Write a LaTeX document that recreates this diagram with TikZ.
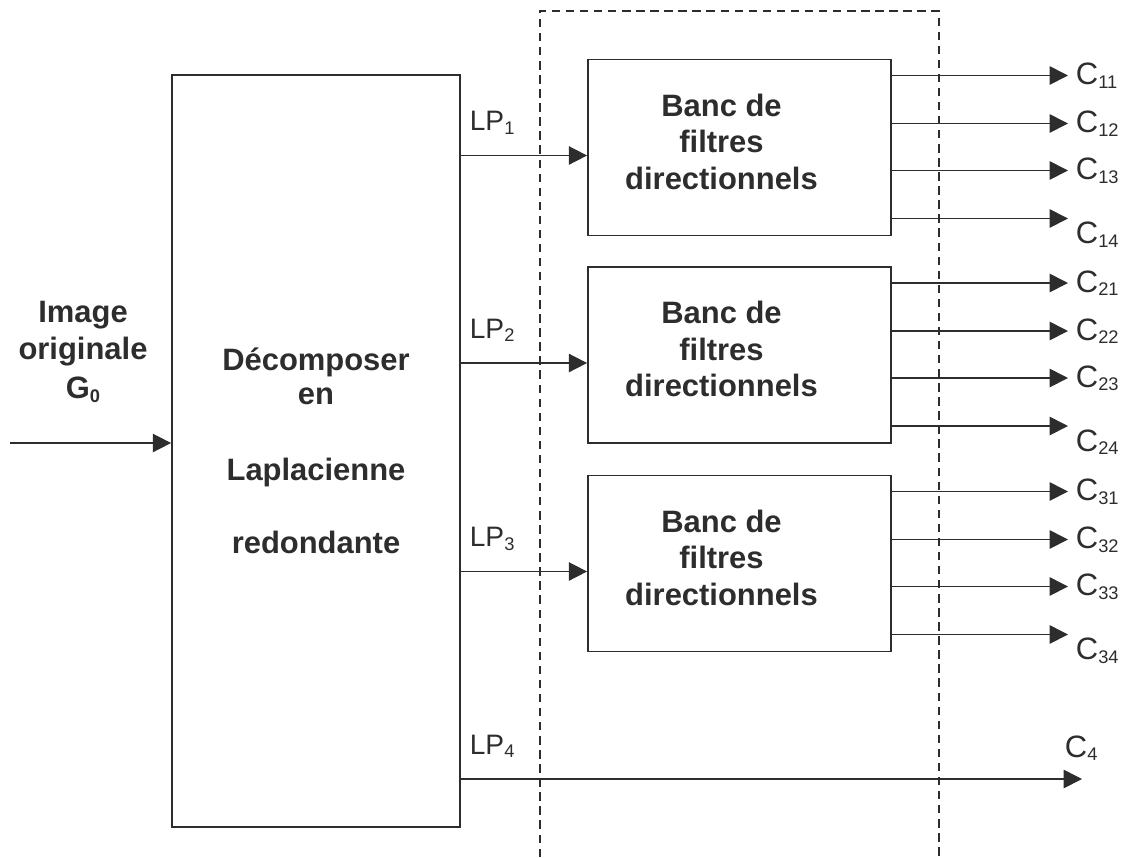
\documentclass[tikz,border=0pt]{standalone}
\usepackage{fontspec}
\setmainfont{Liberation Sans}
\usetikzlibrary{arrows.meta, positioning, calc}
\definecolor{inkgray}{RGB}{45,45,45}
\newcommand{\lowidx}[1]{\raisebox{-2.5pt}{\fontsize{13}{13}\selectfont #1}}

\begin{document}
\begin{tikzpicture}[x=0.025cm, y=-0.025cm,
    box/.style={draw=inkgray, line width=1.2pt, inner sep=0pt},
    flow/.style={draw=inkgray, line width=1.2pt, -{Triangle[length=13pt, width=13pt]}},
    bigtext/.style={font=\fontsize{22}{24}\selectfont\bfseries, text=inkgray, align=center},
    ftext/.style={font=\fontsize{22}{26}\selectfont\bfseries, text=inkgray, align=center},
    lplabel/.style={font=\fontsize{20}{22}\selectfont, text=inkgray, anchor=base west},
    clabel/.style={font=\fontsize{22}{24}\selectfont, text=inkgray, anchor=base west}]
  \useasboundingbox (0,0) rectangle (1124,857);

  % Input image
  \coordinate (in) at (10,443);
  \node[ftext] (g0) at (83,352) {Image\\originale\\[2pt]G\lowidx{0}};

  % Laplacian decomposition
  \node[box, bigtext, minimum width=7.2cm, minimum height=18.8cm] (lap) at (316,451)
    {Décomposer\\en\\[30pt]Laplacienne\\[28pt]redondante};
  \draw[flow] (in) -- (in -| lap.west);

  % Dashed frame round the filter banks
  \draw[inkgray, line width=0.9pt, dash pattern=on 6pt off 4pt] (540,857) |- (939,11) -- (939,857);

  % Directional filter banks
  \coordinate (tipline) at (1068,0);
  \foreach \i/\cy in {1/147.5, 2/355, 3/563.5} {
    \node[box, minimum width=7.575cm, minimum height=4.4cm] (dfb\i) at (739.5,\cy) {};
    \node[ftext] (txt\i) at ($(dfb\i.center)+(-18,-6)$) {Banc de\\filtres\\directionnels};
    \coordinate (a\i) at ($(lap.east |- dfb\i.west)+(0,8)$);
    \draw[flow] (a\i) -- (a\i -| dfb\i.west);
    \node[lplabel] (lp\i) at ($(a\i)+(4,-25)$) {LP\lowidx{\i}};
    \foreach \j/\dy/\ly in {1/-72/9, 2/-24/9, 3/23/9, 4/71/25} {
      \coordinate (s\i\j) at ($(dfb\i.east)+(0,\dy)$);
      \coordinate (e\i\j) at (s\i\j -| tipline);
      \draw[flow] (s\i\j) -- (e\i\j);
      \node[clabel] (c\i\j) at ($(e\i\j)+(3,\ly)$) {C\lowidx{\i\j}};
    }
  }

  % Coarsest level
  \coordinate (c4end) at (1082,779);
  \coordinate (a4) at (lap.east |- c4end);
  \draw[flow] (a4) -- (c4end);
  \node[lplabel] (lp4) at ($(a4)+(4,-25)$) {LP\lowidx{4}};
  \node[clabel] (c4) at ($(c4end)+(-22,-22)$) {C\lowidx{4}};
\end{tikzpicture}
\end{document}
